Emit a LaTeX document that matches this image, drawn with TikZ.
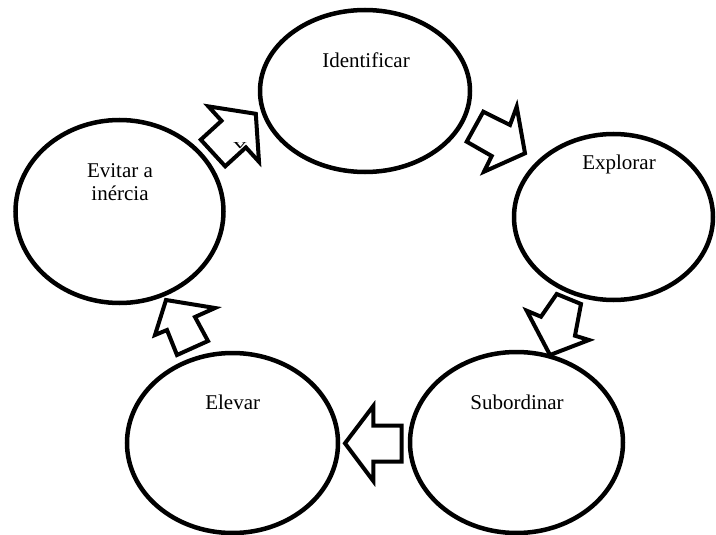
\documentclass[tikz,border=0pt]{standalone}
\usepackage{fontspec}
\setmainfont{Liberation Serif}
\usepackage{graphicx}
\usetikzlibrary{shapes.geometric}
\begin{document}
\begin{tikzpicture}[x=1pt,y=-1pt,
  bubble/.style={ellipse, draw=black, line width=4.5pt, inner sep=0pt},
  lbl/.style={font=\fontsize{21}{23}\selectfont, inner sep=0pt, align=center},
  blockarrow/.style={draw=black, fill=white, line width=4pt, line join=miter}]
\useasboundingbox (0,0) rectangle (716,535);

% ellipses
\node[bubble, minimum width=210pt, minimum height=162pt] (identificar) at (365,91) {};
\node[bubble, minimum width=199pt, minimum height=166pt] (explorar) at (613.5,217) {};
\node[bubble, minimum width=213pt, minimum height=181pt] (subordinar) at (516.5,442.5) {};
\node[bubble, minimum width=211pt, minimum height=180pt] (elevar) at (232.5,443) {};
\node[bubble, minimum width=208pt, minimum height=183pt] (evitar) at (119.5,211.5) {};

% labels
\node[lbl] (tidentificar) at (366,60) {Identificar};
\node[lbl] (texplorar) at (619,164.7) {Explorar};
\node[lbl] (tsubordinar) at (517,402.5) {Subordinar};
\node[lbl] (televar) at (232.7,402.5) {Elevar};
\node[lbl] (tevitar) at (120,182) {Evitar a\\inércia};

% block arrows
% Evitar -> Identificar
\draw[blockarrow] (255.8,113.8) -- (208.4,106.4) -- (221.5,120.8) -- (200.8,139.7)
  -- (225.2,166.3) -- (245.9,147.4) -- (259,161.8) -- cycle;
% Identificar -> Explorar
\draw[blockarrow] (525,153.3) -- (516.7,106.7) -- (510,125) -- (483.3,111.7)
  -- (466.7,141.7) -- (491.7,156) -- (484,171.7) -- cycle;
% Explorar -> Subordinar
\draw[blockarrow] (550,355) -- (526.7,310.7) -- (541,316.7) -- (556.7,294)
  -- (581,304) -- (575,335.7) -- (589,340) -- cycle;
% Subordinar -> Elevar
\draw[blockarrow] (345,443.3) -- (373.3,406) -- (373.3,425.5) -- (401.7,425.5)
  -- (401.7,461.5) -- (373.3,461.5) -- (373.3,481) -- cycle;
% Elevar -> Evitar
\draw[blockarrow] (166,300) -- (215,308) -- (195,317) -- (208,341)
  -- (177,355) -- (167,330) -- (155,335) -- cycle;

% small mark
\node[font=\fontsize{21}{21}\selectfont, inner sep=0pt] (vmark) at (240,145.5) {\scalebox{1.25}[0.62]{v}};
\end{tikzpicture}
\end{document}
